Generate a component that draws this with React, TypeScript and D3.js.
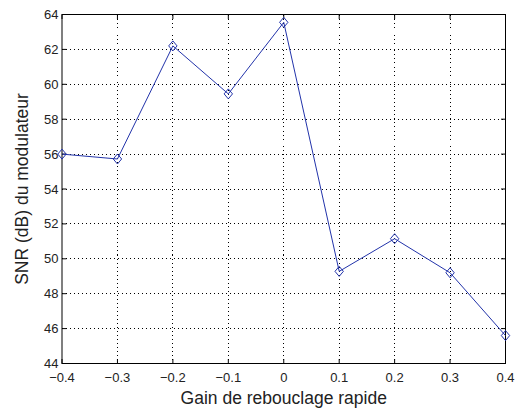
import React from "react";
import * as d3 from "d3";

const gains = [-0.4, -0.3, -0.2, -0.1, 0, 0.1, 0.2, 0.3, 0.4];
const snr = [56.0, 55.72, 62.2, 59.45, 63.55, 49.28, 51.15, 49.2, 45.6];
const xTicks = [-0.4, -0.3, -0.2, -0.1, 0, 0.1, 0.2, 0.3, 0.4];
const yTicks = [44, 46, 48, 50, 52, 54, 56, 58, 60, 62, 64];
const xLabel = "Gain de rebouclage rapide";
const yLabel = "SNR (dB) du modulateur";

const W = 516, H = 412;
const L = 62, R = 505.5, T = 14.5, B = 363.5;
const FONT = "'Liberation Sans', Arial, Helvetica, sans-serif";

export default function App() {
  const x = d3.scaleLinear().domain([-0.4, 0.4]).range([L, R]);
  const y = d3.scaleLinear().domain([44, 64]).range([B, T]);
  const line = d3.line<number>().x((_, i) => x(gains[i])).y((d) => y(d));
  const fmtX = (v: number) => (v === 0 ? "0" : d3.format(".1f")(v));
  const tickLen = 4.5;
  const diamond = (cx: number, cy: number) =>
    `M${cx},${cy - 5} L${cx + 4.2},${cy} L${cx},${cy + 5} L${cx - 4.2},${cy} Z`;
  return (
    <svg width={W} height={H} style={{ position: "absolute", left: 0, top: 0, background: "#fff" }}>
      <rect x={0} y={0} width={W} height={H} fill="#fff" />
      {/* grid */}
      {xTicks.slice(1, -1).map((t) => (
        <line key={"gx" + t} x1={x(t)} x2={x(t)} y1={T} y2={B} stroke="#000" strokeWidth={1} strokeDasharray="1,3" shapeRendering="crispEdges" />
      ))}
      {yTicks.slice(1, -1).map((t) => (
        <line key={"gy" + t} x1={L} x2={R} y1={y(t)} y2={y(t)} stroke="#000" strokeWidth={1} strokeDasharray="1,3" shapeRendering="crispEdges" />
      ))}
      {/* ticks */}
      {xTicks.map((t) => (
        <g key={"tx" + t}>
          <line x1={x(t)} x2={x(t)} y1={B} y2={B - tickLen} stroke="#000" />
          <line x1={x(t)} x2={x(t)} y1={T} y2={T + tickLen} stroke="#000" />
          <text x={x(t)} y={382} fontSize={13} fontFamily={FONT} textAnchor="middle" fill="#222">{fmtX(t)}</text>
        </g>
      ))}
      {yTicks.map((t) => (
        <g key={"ty" + t}>
          <line x1={L} x2={L + tickLen} y1={y(t)} y2={y(t)} stroke="#000" />
          <line x1={R} x2={R - tickLen} y1={y(t)} y2={y(t)} stroke="#000" />
          <text x={58.5} y={y(t) + 4.5} fontSize={13} fontFamily={FONT} textAnchor="end" fill="#222">{t}</text>
        </g>
      ))}
      {/* box */}
      <rect x={L} y={T} width={R - L} height={B - T} fill="none" stroke="#000" strokeWidth={1} />
      {/* data */}
      <path d={line(snr) || ""} fill="none" stroke="#2233aa" strokeWidth={1} />
      {snr.map((v, i) => (
        <path key={"m" + i} d={diamond(x(gains[i]), y(v))} fill="none" stroke="#2233aa" strokeWidth={1} />
      ))}
      {/* labels */}
      <text x={(L + R) / 2} y={404} fontSize={17.5} fontFamily={FONT} textAnchor="middle" fill="#222">{xLabel}</text>
      <text transform={`translate(28,${(T + B) / 2}) rotate(-90)`} fontSize={17.5} fontFamily={FONT} textAnchor="middle" fill="#222">{yLabel}</text>
    </svg>
  );
}
